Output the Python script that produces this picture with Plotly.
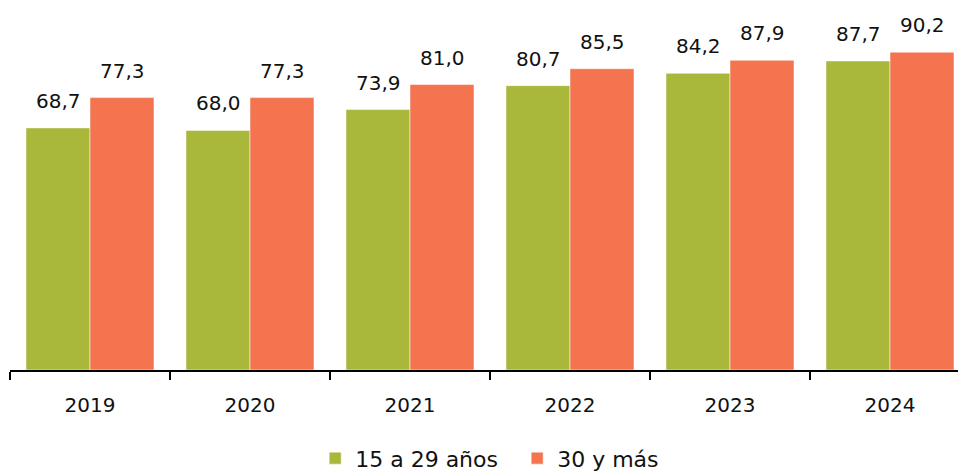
import plotly.graph_objects as go

years = ["2019", "2020", "2021", "2022", "2023", "2024"]
young = [68.7, 68.0, 73.9, 80.7, 84.2, 87.7]
older = [77.3, 77.3, 81.0, 85.5, 87.9, 90.2]
series_names = ["15 a 29 años", "30 y más"]
colors = ["#A9B73A", "#F47450"]

def fmt(v):
    return f"{v:.1f}".replace(".", ",")

FONT = "DejaVu Sans, Verdana, sans-serif"

fig = go.Figure()
for name, vals, col in zip(series_names, [young, older], colors):
    fig.add_trace(go.Bar(
        x=years, y=vals, name=name,
        marker=dict(color=col, line=dict(color="rgba(255,255,255,0.5)", width=1)),
    ))

label_font = dict(family=FONT, size=20, color="#111")
for vals, shift in [(young, -32), (older, 32)]:
    for i, v in enumerate(vals):
        fig.add_annotation(x=i, y=v, xref="x", yref="y", text=fmt(v), showarrow=False,
                           xshift=shift, yshift=13, yanchor="bottom",
                           font=label_font)

fig.update_layout(
    width=958, height=473,
    margin=dict(l=10, r=0, t=0, b=103, autoexpand=False),
    paper_bgcolor="white", plot_bgcolor="white",
    barmode="group", bargap=0.2, bargroupgap=0,
    font=dict(family=FONT, size=20, color="#111"),
    legend=dict(orientation="h", x=0.535, xanchor="center", yref="container",
                y=0.031, yanchor="middle", font=dict(size=22), traceorder="normal",
                entrywidth=157, entrywidthmode="pixels"),
    xaxis=dict(type="category", range=[-0.5, 5.425], showline=True, linecolor="black",
               linewidth=1.5, ticks="outside", tickson="boundaries", ticklen=8,
               tickcolor="black", tickwidth=1.5, showgrid=False, ticklabelstandoff=16,
               tickfont=dict(size=20)),
    yaxis=dict(range=[0, 105], visible=False, showgrid=False),
)

fig.write_html("out.html", config={"displayModeBar": False},
               post_script="document.body.style.margin='0';")
